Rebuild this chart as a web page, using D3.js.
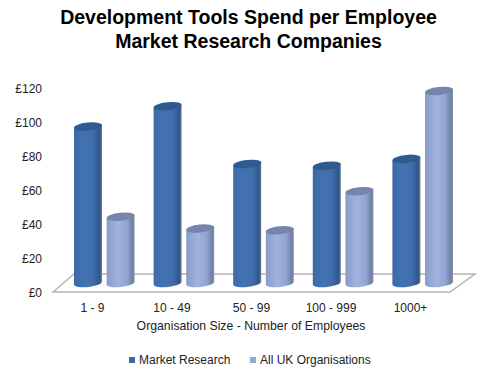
<!DOCTYPE html>
<html>
<head>
<meta charset="utf-8">
<script src="https://cdnjs.cloudflare.com/ajax/libs/d3/7.8.5/d3.min.js"></script>
<style>
body { margin: 0; background: #fff; }
text { font-family: "Liberation Sans", Arial, sans-serif; fill: #222; }
</style>
</head>
<body>
<div class="chart"></div>
<script>
const width = 500, height = 376;
const categories = ['1 - 9', '10 - 49', '50 - 99', '100 - 999', '1000+'];
const seriesNames = ['Market Research', 'All UK Organisations'];
const marketResearch = [92, 104, 70, 69, 73];
const allUK = [39, 32, 31, 54, 113];
const yTicks = [0, 20, 40, 60, 80, 100, 120];
const titleLines = ['Development Tools Spend per Employee', 'Market Research Companies'];
const xTitle = 'Organisation Size - Number of Employees';

let svg = d3.select('.chart')
    .append('svg')
    .attr('width', width)
    .attr('height', height)
    .style('display', 'block');

let y_scale = d3.scaleLinear().domain([0, 120]).range([292, 88]);
let x_scale = d3.scaleBand().domain(categories).range([64, 462]);
let x_inner = d3.scaleBand().domain(seriesNames).range([10, 70]).paddingInner(0.16);
// tick labels sit on the front edge of the floor, left of the bars
let x_labels = d3.scalePoint().domain(categories).range([92, 410]);

// gradients for the cylinder sides
let defs = svg.append('defs');
function addGradient(id, stops) {
    let g = defs.append('linearGradient').attr('id', id);
    stops.forEach(s => g.append('stop').attr('offset', s[0]).attr('stop-color', s[1]));
}
addGradient('grad0', [[0, '#3a6aa6'], [0.35, '#4272b2'], [0.7, '#3f6eab'], [0.92, '#2f5588'], [1, '#6d7f99']]);
addGradient('grad1', [[0, '#8a9bc8'], [0.4, '#a0b2de'], [0.72, '#93a6d2'], [0.93, '#6f7fa6'], [1, '#8d95a8']]);
const topColors = ['#2f5a90', '#7685ab'];

// floor of the 3d plot
let floorPts = [[53, 292], [74, 274], [475, 274], [450, 292]];
svg.append('polygon')
    .attr('points', floorPts.join(' '))
    .attr('fill', '#fff')
    .attr('stroke', '#b4b4b4')
    .attr('stroke-width', 1.5);

// y axis, labels only
let y_Axis = d3.axisLeft().scale(y_scale).tickValues(yTicks).tickSize(0).tickFormat(d => '£' + d);
let yG = svg.append('g').attr('transform', 'translate(44, 1)').call(y_Axis);
yG.select('.domain').remove();
yG.selectAll('text').attr('font-size', 12).attr('x', -2).attr('dy', '0.32em').style('font-family', '"Liberation Sans"');

// x axis, labels only
let x_Axis = d3.axisBottom().scale(x_labels).tickSize(0);
let xG = svg.append('g').attr('transform', 'translate(0, 302)').call(x_Axis);
xG.select('.domain').remove();
xG.selectAll('text').attr('font-size', 12).attr('y', 0).attr('dy', '0.8em').style('font-family', '"Liberation Sans"');

// the cylinders sit on the middle of the floor, not on the front edge
const depth = 9, rx = 14, ry = 4, tilt = -6, lean = 1.5;
function side(x0, yTop, yBase) {
    let x1 = x0 + 2 * rx;
    return `M${x0},${yBase + lean} L${x0},${yTop + lean} L${x1},${yTop - lean} L${x1},${yBase - lean}` +
        ` A${rx},${ry} ${tilt} 0 1 ${x0},${yBase + lean} Z`;
}
function cap(x0, yTop) {
    let x1 = x0 + 2 * rx;
    return `M${x0},${yTop + lean} A${rx},${ry} ${tilt} 0 1 ${x1},${yTop - lean}` +
        ` A${rx},${ry} ${tilt} 0 1 ${x0},${yTop + lean} Z`;
}
let seriesValues = [marketResearch, allUK];
seriesValues.forEach((vals, s) => {
    let g = svg.append('g');
    let barX = (d, i) => x_scale(categories[i]) + x_inner(seriesNames[s]);
    g.selectAll('path.side')
        .data(vals)
        .join('path')
        .attr('class', 'side')
        .attr('fill', `url(#grad${s})`)
        .attr('d', (d, i) => side(barX(d, i), y_scale(d) - depth, y_scale(0) - depth));
    g.selectAll('path.cap')
        .data(vals)
        .join('path')
        .attr('class', 'cap')
        .attr('fill', topColors[s])
        .attr('d', (d, i) => cap(barX(d, i), y_scale(d) - depth));
});

// titles
svg.append('g').selectAll('text')
    .data(titleLines)
    .join('text')
    .attr('x', 248.5)
    .attr('y', (d, i) => 24 + i * 24)
    .attr('text-anchor', 'middle')
    .attr('font-size', 19.5)
    .attr('font-weight', 'bold')
    .style('fill', '#000')
    .text(d => d);
svg.append('text')
    .attr('x', 251)
    .attr('y', 330)
    .attr('text-anchor', 'middle')
    .attr('font-size', 12.25)
    .text(xTitle);

// legend
let legendX = d3.scaleOrdinal().domain(seriesNames).range([129, 250]);
let legendColor = d3.scaleOrdinal().domain(seriesNames).range(['#3a6aa6', '#95a8d6']);
let legend = svg.append('g').selectAll('g')
    .data(seriesNames)
    .join('g')
    .attr('transform', d => `translate(${legendX(d)}, 360.5)`);
legend.append('rect')
    .attr('x', 0).attr('y', -3.5)
    .attr('width', 6).attr('height', 6)
    .attr('fill', d => legendColor(d));
legend.append('text')
    .attr('x', 10)
    .attr('dy', '0.32em')
    .attr('font-size', 12)
    .text(d => d);
</script>
</body>
</html>
